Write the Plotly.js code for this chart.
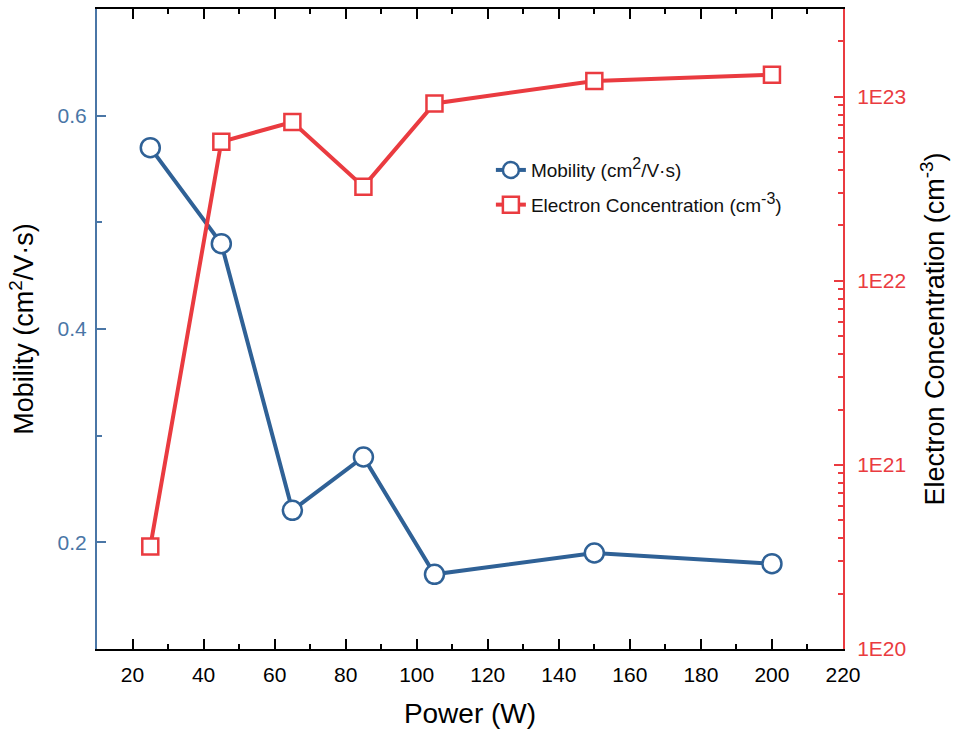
<!DOCTYPE html>
<html>
<head>
<meta charset="utf-8">
<script src="https://cdn.plot.ly/plotly-3.0.1.min.js"></script>
<style>html,body{margin:0;padding:0;background:#fff;}#chart{width:954px;height:735px;}</style>
</head>
<body>
<div id="chart"></div>
<script>
const power = [25, 45, 65, 85, 105, 150, 200];
const mobility = [0.57, 0.48, 0.23, 0.28, 0.17, 0.19, 0.18];
const concentration = [3.6e20, 5.7e22, 7.3e22, 3.25e22, 9.2e22, 1.22e23, 1.32e23];
const xTicks = [20, 40, 60, 80, 100, 120, 140, 160, 180, 200, 220];
const mobTicks = [0.2, 0.4, 0.6];
const concTickVals = [1e20, 1e21, 1e22, 1e23];
const concTickText = ['1E20', '1E21', '1E22', '1E23'];

const blue = '#2f6196';
const blueAxis = '#4a76a6';
const red = '#ea3b40';
const font = 'Liberation Sans, Arial, sans-serif';

const traces = [
  {
    x: power, y: mobility, name: 'Mobility (cm<sup><span style="font-size:16px">2</span></sup>/V·s)',
    legendgroup: 'a',
    type: 'scatter', mode: 'lines+markers',
    line: {color: blue, width: 4},
    marker: {symbol: 'circle', size: 19, color: '#fff', line: {width: 2.5, color: blue}},
    yaxis: 'y'
  },
  {
    x: power, y: concentration, name: 'Electron Concentration (cm<sup><span style="font-size:16px">-3</span></sup>)',
    legendgroup: 'b',
    type: 'scatter', mode: 'lines+markers',
    line: {color: red, width: 4},
    marker: {symbol: 'square', size: 16, color: '#fff', line: {width: 2.5, color: red}},
    yaxis: 'y2'
  }
];

const layout = {
  width: 954, height: 735,
  margin: {l: 97, r: 111, t: 9, b: 86},
  paper_bgcolor: '#fff', plot_bgcolor: '#fff',
  font: {family: font, size: 21, color: '#000'},
  showlegend: true,
  legend: {x: 0.528, y: 0.778, xanchor: 'left', yanchor: 'top',
           font: {family: font, size: 19, color: '#111'}, bgcolor: 'rgba(0,0,0,0)',
           tracegroupgap: 7, itemwidth: 30},
  xaxis: {
    range: [10, 220], tickmode: 'array', tickvals: xTicks,
    ticks: 'inside', ticklen: 10, tickwidth: 2, tickcolor: '#000',
    minor: {dtick: 10, tick0: 0, ticks: 'inside', ticklen: 5, tickwidth: 2, tickcolor: '#000'},
    showline: true, linecolor: '#000', linewidth: 2, mirror: 'ticks',
    showgrid: false, zeroline: false,
    ticklabelstandoff: 6,
    tickfont: {size: 21, color: '#000'},
    title: {text: 'Power (W)', font: {size: 28, color: '#000'}, standoff: 18}
  },
  yaxis: {
    range: [0.1, 0.7], tickmode: 'array', tickvals: mobTicks, ticktext: ['0.2', '0.4', '0.6'],
    ticks: 'inside', ticklen: 9, tickwidth: 2, tickcolor: blueAxis,
    minor: {dtick: 0.1, tick0: 0, ticks: 'inside', ticklen: 5, tickwidth: 2, tickcolor: blueAxis},
    showline: true, linecolor: blueAxis, linewidth: 2,
    showgrid: false, zeroline: false,
    ticklabelstandoff: 4,
    tickfont: {size: 21, color: blueAxis},
    title: {text: 'Mobility (cm<sup>2</sup>/V·s)', font: {size: 27, color: '#000'}, standoff: 16}
  },
  yaxis2: {
    type: 'log', overlaying: 'y', side: 'right',
    range: [20, Math.log10(3e23)],
    tickmode: 'array', tickvals: concTickVals, ticktext: concTickText,
    ticks: 'inside', ticklen: 9, tickwidth: 2, tickcolor: red,
    minor: {dtick: 'D1', ticks: 'inside', ticklen: 5, tickwidth: 2, tickcolor: red},
    showline: true, linecolor: red, linewidth: 2,
    showgrid: false, zeroline: false,
    ticklabelstandoff: 8,
    tickfont: {size: 21, color: red},
    title: {text: 'Electron Concentration (cm<sup>-3</sup>)', font: {size: 27, color: '#000'}, standoff: 20}
  }
};

Plotly.newPlot('chart', traces, layout, {displayModeBar: false, staticPlot: true});
</script>
</body>
</html>
